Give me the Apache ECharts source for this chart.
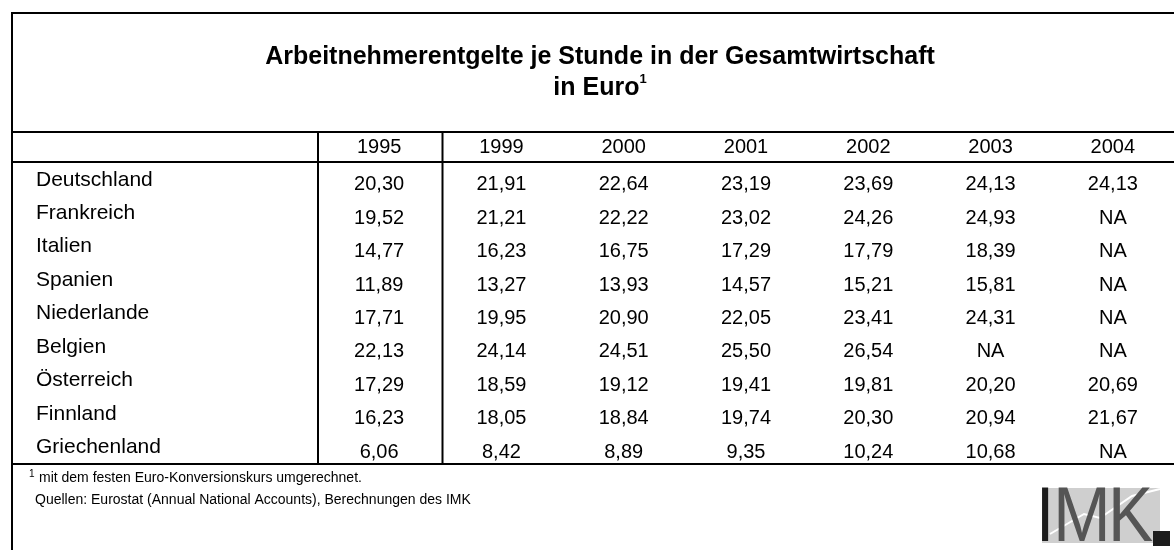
<!DOCTYPE html>
<html>
<head>
<meta charset="utf-8">
<script src="https://cdn.jsdelivr.net/npm/echarts@6/dist/echarts.min.js"></script>
<style>
  html, body { margin: 0; padding: 0; background: #fff; }
  #chart { width: 1174px; height: 550px; }
</style>
</head>
<body>
<div id="chart"></div>
<script>
// table data (null = NA)
const years = ['1995', '1999', '2000', '2001', '2002', '2003', '2004']
const countries = ['Deutschland', 'Frankreich', 'Italien', 'Spanien', 'Niederlande', 'Belgien', 'Österreich', 'Finnland', 'Griechenland']

const deutschland = [20.30, 21.91, 22.64, 23.19, 23.69, 24.13, 24.13]
const frankreich = [19.52, 21.21, 22.22, 23.02, 24.26, 24.93, null]
const italien = [14.77, 16.23, 16.75, 17.29, 17.79, 18.39, null]
const spanien = [11.89, 13.27, 13.93, 14.57, 15.21, 15.81, null]
const niederlande = [17.71, 19.95, 20.90, 22.05, 23.41, 24.31, null]
const belgien = [22.13, 24.14, 24.51, 25.50, 26.54, null, null]
const oesterreich = [17.29, 18.59, 19.12, 19.41, 19.81, 20.20, 20.69]
const finnland = [16.23, 18.05, 18.84, 19.74, 20.30, 20.94, 21.67]
const griechenland = [6.06, 8.42, 8.89, 9.35, 10.24, 10.68, null]

const rows = [deutschland, frankreich, italien, spanien, niederlande, belgien, oesterreich, finnland, griechenland]

const FONT = '"Liberation Sans", Arial, sans-serif'

function fmt(v) {
  return v == null ? 'NA' : v.toFixed(2).replace('.', ',')
}

function hline(y, x1 = 12, x2 = 1174) {
  return { type: 'line', silent: true, shape: { x1, y1: y, x2, y2: y }, style: { stroke: '#000', lineWidth: 2 } }
}
function vline(x, y1, y2) {
  return { type: 'line', silent: true, shape: { x1: x, y1, x2: x, y2 }, style: { stroke: '#000', lineWidth: 2 } }
}

const chart = echarts.init(document.getElementById('chart'))

chart.setOption({
  backgroundColor: '#fff',
  animation: false,
  title: {
    text: 'Arbeitnehmerentgelte je Stunde in der Gesamtwirtschaft\nin Euro{sup|1}',
    left: 600,
    top: 42,
    padding: 0,
    textAlign: 'center',
    textStyle: {
      fontFamily: FONT,
      fontSize: 25,
      fontWeight: 'bold',
      color: '#000',
      lineHeight: 31,
      rich: {
        sup: { fontFamily: FONT, fontSize: 13, fontWeight: 'bold', color: '#000', verticalAlign: 'top', lineHeight: 13 }
      }
    }
  },
  grid: { left: 318, top: 163, width: 871.5, height: 301, containLabel: false },
  xAxis: {
    type: 'category',
    data: years,
    position: 'top',
    axisLine: { show: false },
    axisTick: { show: false },
    splitLine: { show: false },
    axisLabel: { interval: 0, margin: 16, verticalAlign: 'middle', fontFamily: FONT, fontSize: 20, color: '#000' }
  },
  yAxis: {
    type: 'category',
    data: countries,
    inverse: true,
    axisLine: { show: false },
    axisTick: { show: false },
    splitLine: { show: false },
    axisLabel: { interval: 0, margin: 282, align: 'left', fontFamily: FONT, fontSize: 21, color: '#000' }
  },
  series: rows.map((vals, r) => ({
    type: 'scatter',
    name: countries[r],
    symbolSize: 0,
    itemStyle: { color: '#000' },
    emphasis: { disabled: true },
    data: vals.map((v, c) => [c, r, v]),
    label: {
      show: true,
      position: 'inside',
      offset: [0, 5],
      fontFamily: FONT,
      fontSize: 20,
      color: '#000',
      opacity: 1,
      textBorderWidth: 0,
      formatter: p => fmt(p.value[2])
    }
  })),
  graphic: [
    hline(13),
    vline(12, 12, 550),
    hline(132),
    hline(162),
    hline(464),
    vline(318, 132, 464),
    vline(442.5, 132, 464),
    // footnote & source
    { type: 'text', x: 29, y: 474, style: { text: '1', font: '10px ' + FONT, fill: '#000', verticalAlign: 'middle' } },
    { type: 'text', x: 39, y: 478, style: { text: 'mit dem festen Euro-Konversionskurs umgerechnet.', font: '14px ' + FONT, fill: '#000', verticalAlign: 'middle' } },
    { type: 'text', x: 35, y: 500, style: { text: 'Quellen: Eurostat (Annual National Accounts), Berechnungen des IMK', font: '14px ' + FONT, fill: '#000', verticalAlign: 'middle' } },
    // IMK logo
    { type: 'rect', shape: { x: 1042, y: 488, width: 118, height: 55 }, style: { fill: '#cfcfcf' } },
    { type: 'polyline', shape: { points: [[1050, 534], [1084, 514], [1100, 518], [1132, 496], [1160, 489]] }, style: { stroke: '#fff', lineWidth: 2, fill: null } },
    { type: 'text', x: 1036, y: 520, scaleX: 0.85, style: { text: 'I', font: '77px ' + FONT, fill: '#1c1c1c', verticalAlign: 'middle' } },
    { type: 'text', x: 1053, y: 520, scaleX: 0.9, style: { text: 'M', font: '77px ' + FONT, fill: '#555', verticalAlign: 'middle' } },
    { type: 'text', x: 1108, y: 520, scaleX: 0.88, style: { text: 'K', font: '77px ' + FONT, fill: '#555', verticalAlign: 'middle' } },
    { type: 'rect', shape: { x: 1153, y: 531, width: 17, height: 15 }, style: { fill: '#1c1c1c' } }
  ]
})

window.addEventListener('resize', () => chart.resize())
</script>
</body>
</html>
